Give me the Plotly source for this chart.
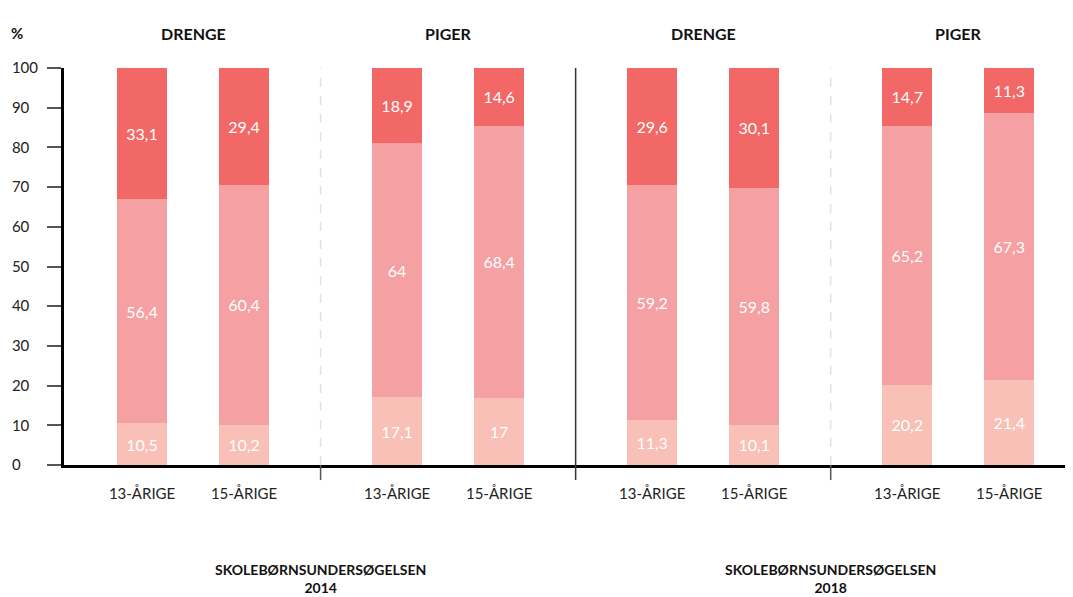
import plotly.graph_objects as go

# groups: (year, gender) and ages within each
groups = ["DRENGE", "PIGER", "DRENGE", "PIGER"]
ages = ["13-ÅRIGE", "15-ÅRIGE"]
years = ["SKOLEBØRNSUNDERSØGELSEN<br>2014", "SKOLEBØRNSUNDERSØGELSEN<br>2018"]

# segments bottom -> top, bars in order: 2014 drenge 13/15, 2014 piger 13/15, 2018 drenge 13/15, 2018 piger 13/15
bund = [10.5, 10.2, 17.1, 17, 11.3, 10.1, 20.2, 21.4]
midt = [56.4, 60.4, 64, 68.4, 59.2, 59.8, 65.2, 67.3]
top = [33.1, 29.4, 18.9, 14.6, 29.6, 30.1, 14.7, 11.3]

colors = ["#f8c0b6", "#f5a0a2", "#f26866"]

x = []
for g in range(len(groups)):
    for a in range(len(ages)):
        x.append(g * 5 + a * 2)

def lbl(vals):
    return [str(v).replace(".", ",") for v in vals]

fig = go.Figure()
for vals, c in zip([bund, midt, top], colors):
    fig.add_trace(go.Bar(
        x=x, y=vals, marker=dict(color=c, line=dict(width=0)),
        width=0.98, text=lbl(vals), textposition="inside",
        insidetextanchor="middle", textangle=0,
        textfont=dict(color="white", size=16, family="Lato"),
        hoverinfo="skip", showlegend=False,
    ))

yt = list(range(0, 101, 10))
fig.update_layout(
    barmode="stack",
    width=1065, height=589,
    margin=dict(l=56, r=0, t=60, b=132),
    paper_bgcolor="white", plot_bgcolor="white",
    font=dict(family="Lato", size=15, color="#222"),
    xaxis=dict(
        range=[-1.53, 18.25], tickvals=x, ticktext=ages * len(groups),
        showline=True, linecolor="black", linewidth=3, ticks="",
        showgrid=False, zeroline=False, ticklabelstandoff=13,
    ),
    yaxis=dict(
        range=[0, 100], tickvals=yt,
        ticktext=[str(v).ljust(3, "\u2007") for v in yt],
        showline=True, linecolor="black", linewidth=3,
        ticks="outside", ticklen=14, tickcolor="#555", tickwidth=1.5,
        showgrid=False, zeroline=False, ticklabelstandoff=6,
    ),
)

# separators
for g in range(1, len(groups)):
    xs = g * 5 - 1.5
    if g == 2:
        fig.add_shape(type="line", xref="x", yref="paper", x0=xs, x1=xs, y0=-0.038, y1=1,
                      line=dict(color="#333", width=1.5))
    else:
        fig.add_shape(type="line", xref="x", yref="paper", x0=xs, x1=xs, y0=0, y1=1,
                      line=dict(color="#e2e2e2", width=1.5, dash="dash"))
        fig.add_shape(type="line", xref="x", yref="paper", x0=xs, x1=xs, y0=-0.038, y1=0,
                      line=dict(color="#555", width=1.5))

for g, name in enumerate(groups):
    fig.add_annotation(x=g * 5 + 1, y=1.116, xref="x", yref="paper", text="<b>" + name + "</b>",
                       showarrow=False, font=dict(size=16, color="#111"))

for i, yr in enumerate(years):
    fig.add_annotation(x=i * 10 + 3.5, y=-0.237, xref="x", yref="paper", text="<b>" + yr + "</b>",
                       showarrow=False, yanchor="top", font=dict(size=14, color="#111"))

fig.add_annotation(x=-0.055, y=1.116, xref="paper", yref="paper", text="<b>%</b>",
                   showarrow=False, xanchor="left", font=dict(size=15, color="#111"))

fig.write_html("out.html")
